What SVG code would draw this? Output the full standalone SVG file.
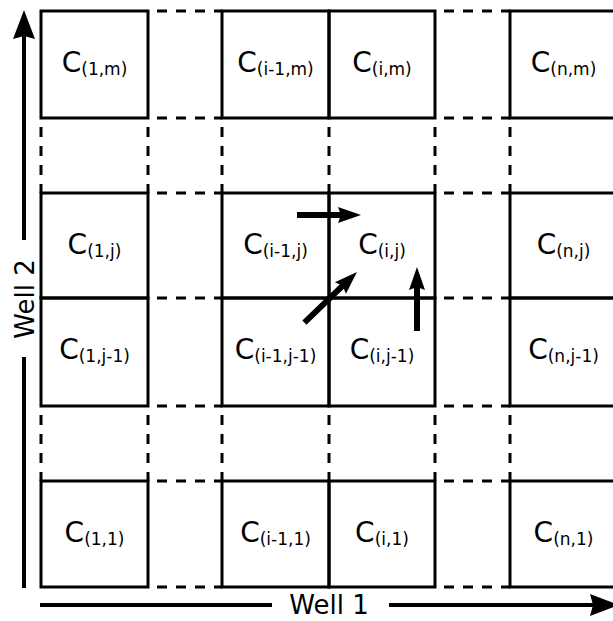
<svg xmlns="http://www.w3.org/2000/svg" width="613" height="621" viewBox="0 0 613 621">
<style>
.box{fill:none;stroke:#000;stroke-width:3}
.dash{fill:none;stroke:#000;stroke-width:3;stroke-dasharray:10 9;stroke-dashoffset:10}
.lbl{font-family:"DejaVu Sans","Verdana",sans-serif;font-size:28px;fill:#000;text-anchor:middle}
.sub{font-size:17px}
.axis{font-family:"DejaVu Sans","Verdana",sans-serif;font-size:26px;fill:#000;text-anchor:middle}
.shaft{stroke:#000;stroke-width:4;fill:none}
.sshaft{stroke:#000;stroke-width:6;fill:none}
</style>
<rect width="613" height="621" fill="#fff"/>
<g id="dashed-grid">
<path class="dash" d="M148,11H222M148,118H222M148,193H222M148,298H222M148,406H222M148,481H222M148,587H222"/>
<path class="dash" d="M435,11H510M435,118H510M435,193H510M435,298H510M435,406H510M435,481H510M435,587H510"/>
<path class="dash" d="M41,118V193M148,118V193M222,118V193M329,118V193M435,118V193M510,118V193"/>
<path class="dash" d="M41,406V481M148,406V481M222,406V481M329,406V481M435,406V481M510,406V481"/>
</g>
<g id="c_1_m"><rect class="box" x="41" y="11" width="107" height="107"/><text class="lbl" x="94.5" y="72">C<tspan class="sub" dy="3">(1,m)</tspan></text></g>
<g id="c_im1_m"><rect class="box" x="222" y="11" width="107" height="107"/><text class="lbl" x="275.5" y="72">C<tspan class="sub" dy="3">(i-1,m)</tspan></text></g>
<g id="c_i_m"><rect class="box" x="329" y="11" width="106" height="107"/><text class="lbl" x="382" y="72">C<tspan class="sub" dy="3">(i,m)</tspan></text></g>
<g id="c_n_m"><rect class="box" x="510" y="11" width="107" height="107"/><text class="lbl" x="563.5" y="72">C<tspan class="sub" dy="3">(n,m)</tspan></text></g>

<g id="c_1_j"><rect class="box" x="41" y="193" width="107" height="105"/><text class="lbl" x="94.5" y="254">C<tspan class="sub" dy="3">(1,j)</tspan></text></g>
<g id="c_im1_j"><rect class="box" x="222" y="193" width="107" height="105"/><text class="lbl" x="275.5" y="254">C<tspan class="sub" dy="3">(i-1,j)</tspan></text></g>
<g id="c_i_j"><rect class="box" x="329" y="193" width="106" height="105"/><text class="lbl" x="382" y="254">C<tspan class="sub" dy="3">(i,j)</tspan></text></g>
<g id="c_n_j"><rect class="box" x="510" y="193" width="107" height="105"/><text class="lbl" x="563.5" y="254">C<tspan class="sub" dy="3">(n,j)</tspan></text></g>

<g id="c_1_jm1"><rect class="box" x="41" y="298" width="107" height="108"/><text class="lbl" x="94.5" y="359">C<tspan class="sub" dy="3">(1,j-1)</tspan></text></g>
<g id="c_im1_jm1"><rect class="box" x="222" y="298" width="107" height="108"/><text class="lbl" x="275.5" y="359">C<tspan class="sub" dy="3">(i-1,j-1)</tspan></text></g>
<g id="c_i_jm1"><rect class="box" x="329" y="298" width="106" height="108"/><text class="lbl" x="382" y="359">C<tspan class="sub" dy="3">(i,j-1)</tspan></text></g>
<g id="c_n_jm1"><rect class="box" x="510" y="298" width="107" height="108"/><text class="lbl" x="563.5" y="359">C<tspan class="sub" dy="3">(n,j-1)</tspan></text></g>

<g id="c_1_1"><rect class="box" x="41" y="481" width="107" height="106"/><text class="lbl" x="94.5" y="542">C<tspan class="sub" dy="3">(1,1)</tspan></text></g>
<g id="c_im1_1"><rect class="box" x="222" y="481" width="107" height="106"/><text class="lbl" x="275.5" y="542">C<tspan class="sub" dy="3">(i-1,1)</tspan></text></g>
<g id="c_i_1"><rect class="box" x="329" y="481" width="106" height="106"/><text class="lbl" x="382" y="542">C<tspan class="sub" dy="3">(i,1)</tspan></text></g>
<g id="c_n_1"><rect class="box" x="510" y="481" width="107" height="106"/><text class="lbl" x="563.5" y="542">C<tspan class="sub" dy="3">(n,1)</tspan></text></g>

<g id="connectors">
<g id="axis-well2">
<path class="shaft" d="M24,588V357M24,240V34"/>
<path d="M24,10L35,39L24,36L13,39Z" fill="#000"/>
<text class="axis" transform="translate(34,299) rotate(-90)">Well 2</text>
</g>
<g id="axis-well1">
<path class="shaft" d="M40,605H272M389,605H594"/>
<path d="M619,605L590,616L593,605L590,594Z" fill="#000"/>
<text class="axis" x="329" y="614">Well 1</text>
</g>
<g id="arrow-right">
<path class="sshaft" d="M297,215H342"/>
<path d="M361,215L338,223L341,215L338,207Z" fill="#000"/>
</g>
<g id="arrow-diag" transform="translate(357,272) rotate(-43.9)">
<path class="sshaft" d="M-73,0H-19"/>
<path d="M0,0L-23,8L-20,0L-23,-8Z" fill="#000"/>
</g>
<g id="arrow-up">
<path class="sshaft" d="M417,331V286"/>
<path d="M417,267L425,290L417,287L409,290Z" fill="#000"/>
</g>
</g>
</svg>
